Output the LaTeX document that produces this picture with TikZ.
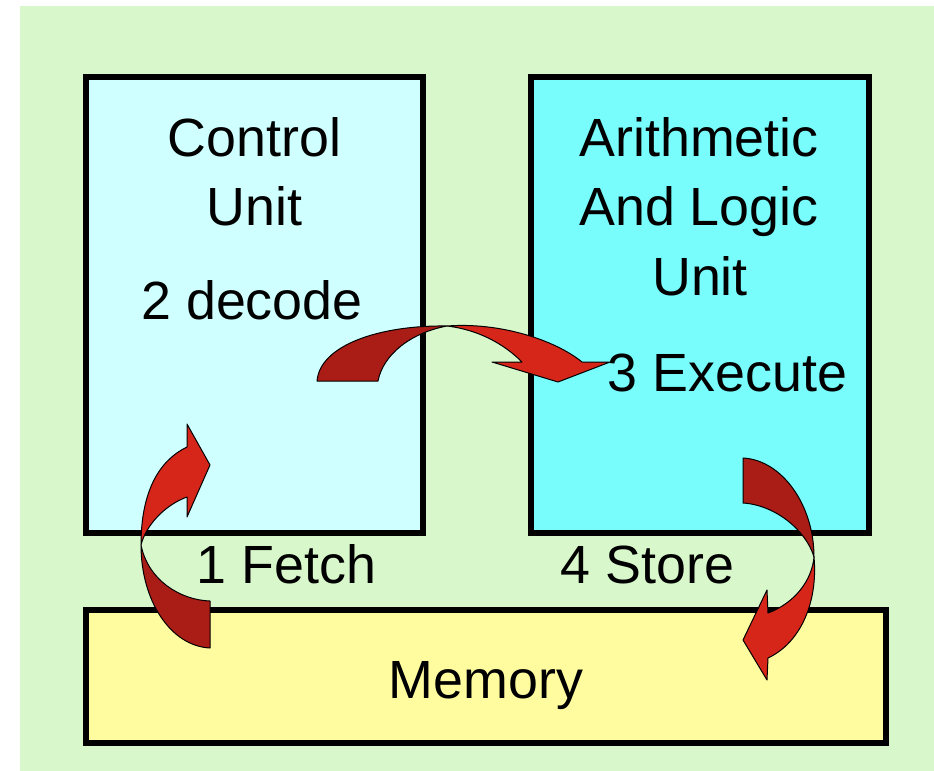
\documentclass[tikz,border=0pt]{standalone}
\usepackage{fontspec}
\setmainfont{Liberation Sans}
\usetikzlibrary{backgrounds}

\definecolor{bggreen}{RGB}{216,248,204}
\definecolor{cucyan}{RGB}{208,255,255}
\definecolor{alucyan}{RGB}{120,252,252}
\definecolor{memyellow}{RGB}{255,252,160}
\definecolor{arrred}{RGB}{214,38,26}
\definecolor{arrdark}{RGB}{170,28,22}

\begin{document}
\begin{tikzpicture}[x=1bp,y=-1bp,
    unitbox/.style={draw=black,line width=6bp,inner sep=0pt},
    lbl/.style={anchor=base,inner sep=0pt,font=\fontsize{54}{60}\selectfont},
    bentfront/.style={fill=arrred,draw=black,line width=1bp,line join=round},
    bentback/.style={fill=arrdark,draw=black,line width=1bp,line join=round}]
            \useasboundingbox (0,0) rectangle (934,771);
            \fill[bggreen] (20,6) rectangle (934,771);

            % the three units
            \node[unitbox,fill=cucyan,minimum width=337bp,minimum height=456bp] (cu) at (254.5,305) {};
            \node[unitbox,fill=alucyan,minimum width=338bp,minimum height=456bp] (alu) at (699.5,305) {};
            \node[unitbox,fill=memyellow,minimum width=800bp,minimum height=133bp] (mem) at (486,676.5) {};

            \node[lbl] (cuA) at (254.5,156) {Control};
            \node[lbl] (cuB) at (254.5,225) {Unit};
            \node[lbl] (decode) at (252,319) {2 decode};
            \node[lbl] (aluA) at (699,156) {Arithmetic};
            \node[lbl] (aluB) at (699,225) {And Logic};
            \node[lbl] (aluC) at (700,295) {Unit};
            \node[lbl] (fetch) at (286.5,583) {1 Fetch};
            \node[lbl] (store) at (647.5,583) {4 Store};
            \node[lbl] (memtxt) at (486,698) {Memory};

            % fetch
            \path[bentback] (210,601) -- (210,648) .. controls (170,646) and (141,600) .. (141,545)
                .. controls (148,580) and (180,600) .. (210,601) -- cycle;
            \path[bentfront] (141,545) .. controls (141,490) and (160,460) .. (187,447) -- (187,424)
                -- (210,465) -- (187,517) -- (187,497) .. controls (165,505) and (146,525) .. (141,545) -- cycle;

            % decode
            \path[bentback] (317,381) -- (378,381) .. controls (383,355) and (410,333) .. (447,326)
                .. controls (380,325) and (320,345) .. (317,381) -- cycle;
            \path[bentfront] (447,326) .. controls (500,322) and (555,340) .. (582,362) -- (610,362)
                -- (558,382) -- (492,362) -- (522,362) .. controls (505,345) and (480,330) .. (447,326) -- cycle;
            \node[lbl] (exec) at (727.5,391) {3 Execute};

            % store
            \path[bentback] (743,458) .. controls (782,460) and (814,505) .. (814,557)
                .. controls (806,530) and (775,505) .. (743,503) -- cycle;
            \path[bentfront] (814,557) .. controls (818,600) and (802,642) .. (768,658) -- (767,680)
                -- (743,640) -- (767,590) -- (768,613) .. controls (795,603) and (812,580) .. (814,557) -- cycle;
          \end{tikzpicture}
\end{document}
